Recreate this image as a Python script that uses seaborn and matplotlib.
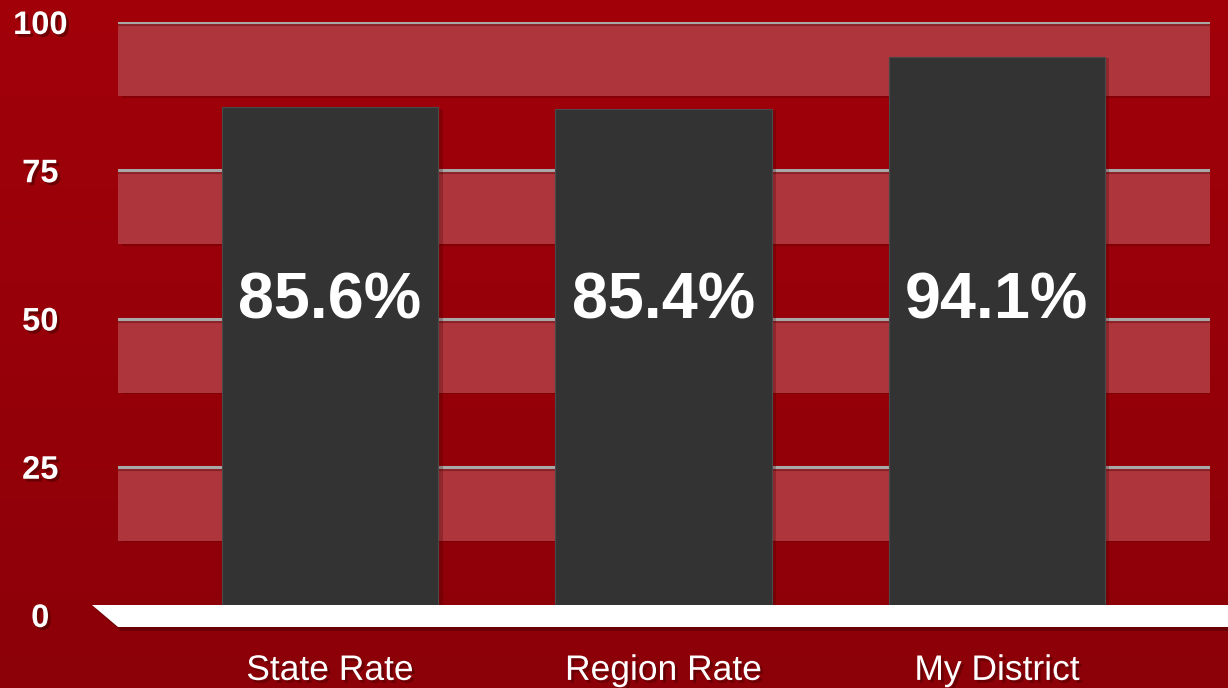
import numpy as np
import matplotlib
matplotlib.use("Agg")
import matplotlib.pyplot as plt
import matplotlib.patheffects as pe
import matplotlib.transforms as mtransforms
from matplotlib.patches import Polygon
import seaborn as sns

# data
categories = ["State Rate", "Region Rate", "My District"]
rates = [85.6, 85.4, 94.1]
rate_labels = ["85.6%", "85.4%", "94.1%"]
y_ticks = [0, 25, 50, 75, 100]

sns.set_theme(style="white")
plt.rcParams['font.family'] = ['Liberation Sans', 'DejaVu Sans']

W, H = 1228, 688
fig = plt.figure(figsize=(W / 100, H / 100), dpi=100)

# background gradient (darker towards the bottom)
bg = fig.add_axes([0, 0, 1, 1], zorder=-5)
top = np.array([0xa2, 0x00, 0x0a]) / 255
bot = np.array([0x8c, 0x00, 0x08]) / 255
t = np.linspace(0, 1, 256)[:, None]
grad = (top * (1 - t) + bot * t)[:, None, :]
bg.imshow(grad, aspect='auto', extent=[0, 1, 0, 1])
bg.axis('off')

ax = fig.add_axes([118 / W, (H - 615) / H, (1210 - 118) / W, (615 - 22) / H])
ax.set_facecolor('none')

# light bands under each gridline
for yv in y_ticks[1:]:
    ax.axhspan(yv - 12.5, yv, color='#ad353b', zorder=0, lw=0)
    ax.axhline(yv, color='#a8a8a8', lw=2.2, zorder=1,
               path_effects=[pe.SimpleLineShadow(offset=(0, -1.5), shadow_color='#6a1015', alpha=0.5), pe.Normal()])

sns.barplot(x=categories, y=rates, color='#333333', saturation=1, width=0.65,
            edgecolor='#4a4a4a', linewidth=0.8, ax=ax, zorder=3)
for bar in ax.patches:
    bar.set_path_effects([pe.SimplePatchShadow(offset=(3, -1), shadow_rgbFace='#3a0000', alpha=0.25), pe.Normal()])

for i, lab in enumerate(rate_labels):
    ax.text(i, 52.8, lab, ha='center', va='center', color='white', fontsize=46.5,
            fontweight='bold', zorder=5)

ax.set_xlim(-0.636, 2.639)
ax.set_ylim(0, 100)
ax.set_yticks(y_ticks)
ax.set_yticklabels([str(v) for v in y_ticks])
shift = mtransforms.ScaledTranslation(0, -3 / 100, fig.dpi_scale_trans)
for lab in ax.get_yticklabels():
    lab.set_horizontalalignment('center')
    lab.set_fontweight('bold')
    lab.set_color('white')
    lab.set_fontsize(23.5)
    lab.set_transform(lab.get_transform() + shift)
    lab.set_path_effects([pe.SimplePatchShadow(offset=(2, -2), shadow_rgbFace='#4a0000', alpha=0.6), pe.Normal()])
for lab in ax.get_xticklabels():
    lab.set_color('white')
    lab.set_fontsize(25.5)
    lab.set_path_effects([pe.SimplePatchShadow(offset=(2, -2), shadow_rgbFace='#4a0000', alpha=0.5), pe.Normal()])
ax.tick_params(axis='y', length=0, pad=56)
ax.tick_params(axis='x', length=0, pad=28)
for s in ax.spines.values():
    s.set_visible(False)
ax.grid(False)

# white floor slab at the base
floor_px = [(92, 605), (1228, 605), (1228, 627), (118, 627)]
floor = Polygon([(x / W, 1 - y / H) for x, y in floor_px], closed=True,
                transform=fig.transFigure, facecolor='white', edgecolor='none', zorder=10,
                path_effects=[pe.SimplePatchShadow(offset=(2, -3), shadow_rgbFace='#3a0000', alpha=0.4), pe.Normal()])
fig.patches.append(floor)

fig.savefig("out.png", dpi=100)
